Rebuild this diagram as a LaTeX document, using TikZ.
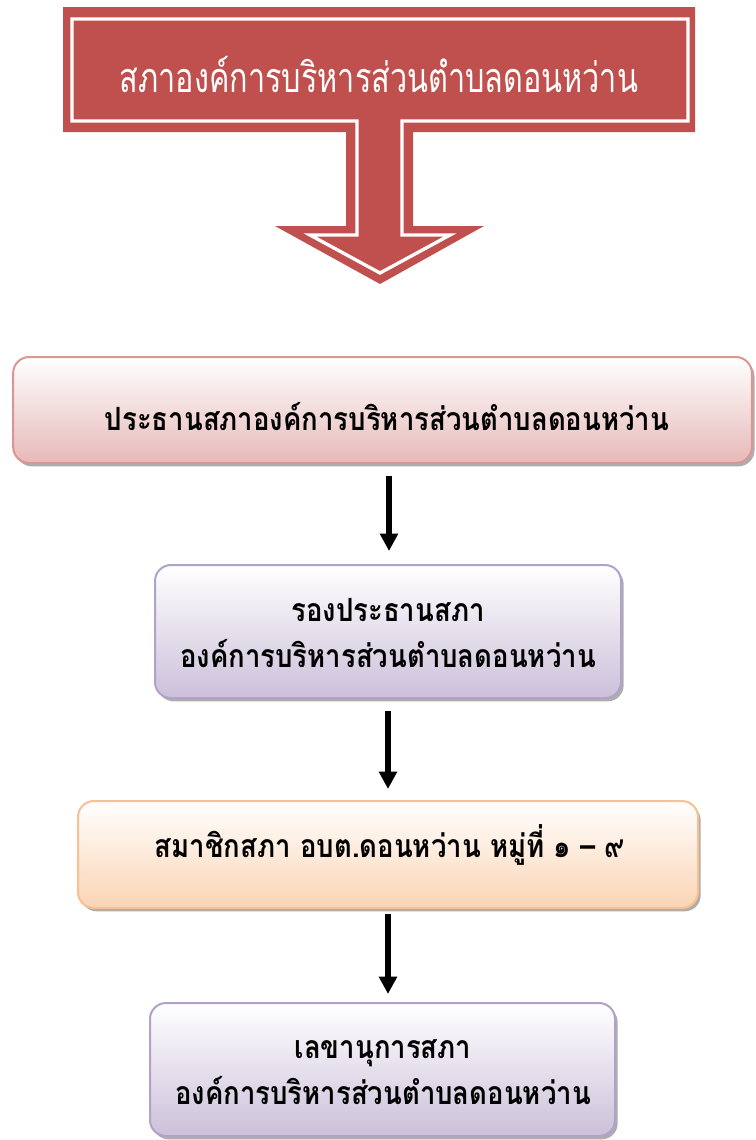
\documentclass[tikz,border=0pt]{standalone}
\usepackage{fontspec}
\newfontfamily\thaifont[Script=Thai,FakeStretch=0.86]{Loma}
\newfontfamily\thaititle[Script=Thai,FakeStretch=0.74]{Loma}
\usetikzlibrary{arrows.meta,shadows,calc}
\definecolor{calred}{HTML}{C0504D}
\definecolor{pinkB}{HTML}{D99694}
\definecolor{pinkF}{HTML}{E6B9B8}
\definecolor{purB}{HTML}{B3A2C7}
\definecolor{purF}{HTML}{CCC0DA}
\definecolor{orB}{HTML}{FAC090}
\definecolor{orF}{HTML}{FBD4B4}
\begin{document}
\begin{tikzpicture}[x=0.75pt,y=-0.75pt,
  box/.style={rounded corners=12pt,line width=1.5pt,inner sep=0pt,
    drop shadow={shadow xshift=2pt,shadow yshift=-2.5pt,fill=black!40,opacity=0.8}},
  boxtext/.style={font=\thaifont\bfseries\fontsize{24}{35}\selectfont,align=center,text=black},
  flow/.style={line width=4.5pt,-{Triangle[width=13pt,length=13pt]}}]
\useasboundingbox (0,0) rectangle (756,1140);
% callout
\fill[calred] (63,7) -- (695,7) -- (695,132) -- (413,132) -- (413,226) -- (484,226)
  -- (380,284) -- (275,226) -- (346,226) -- (346,132) -- (63,132) -- cycle;
\draw[white,line width=2.5pt,line join=miter] (72,19) -- (688,19) -- (688,121) -- (402,121)
  -- (402,235) -- (450,235) -- (380,273) -- (310,235) -- (357,235) -- (357,121) -- (72,121) -- cycle;
\node[font=\thaititle\fontsize{31}{34}\selectfont,text=white] (title) at (379,74) {สภาองค์การบริหารส่วนตำบลดอนหว่าน};
% boxes
\node[box,draw=pinkB,top color=white,bottom color=pinkF,minimum width=554pt,minimum height=79.5pt] (b1) at (382.5,410) {};
\node[box,draw=purB,top color=white,bottom color=purF,minimum width=349.5pt,minimum height=99.75pt] (b2) at (388,631.5) {};
\node[box,draw=orB,top color=white,bottom color=orF,minimum width=465pt,minimum height=80.25pt] (b3) at (388,854.5) {};
\node[box,draw=purB,top color=white,bottom color=purF,minimum width=348.75pt,minimum height=99.75pt] (b4) at (382.5,1069.5) {};
\node[boxtext] (t1) at (387,417) {ประธานสภาองค์การบริหารส่วนตำบลดอนหว่าน};
\node[boxtext] (t2) at (388,633) {รองประธานสภา\\องค์การบริหารส่วนตำบลดอนหว่าน};
\node[boxtext] (t3) at (390,845) {สมาชิกสภา อบต.ดอนหว่าน หมู่ที่ ๑ – ๙};
\node[boxtext] (t4) at (383,1072) {เลขานุการสภา\\องค์การบริหารส่วนตำบลดอนหว่าน};
% connectors
\draw[flow] ($(b1.south -| b2.north)+(1,12)$) -- ($(b2.north)+(1,-13)$);
\draw[flow] ($(b2.south)+(0,12)$) -- ($(b3.north)+(0,-11)$);
\draw[flow] ($(b3.south)+(0,5)$) -- ($(b4.north -| b3.south)+(0,-8)$);
\end{tikzpicture}
\end{document}
